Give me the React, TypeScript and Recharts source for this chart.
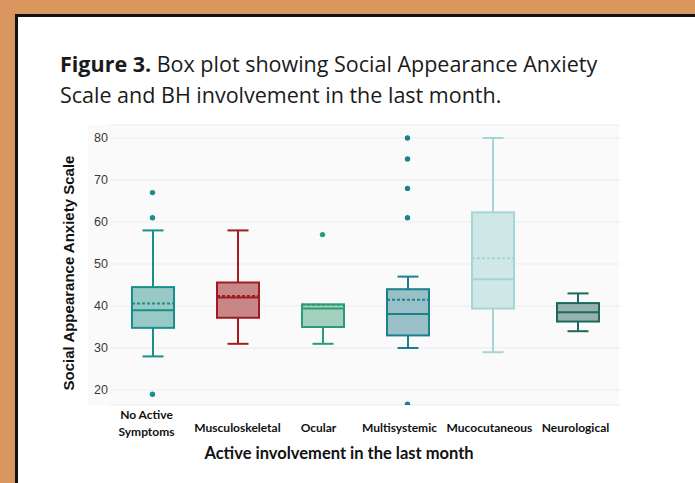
import { ComposedChart, Bar, Line, XAxis, YAxis, CartesianGrid } from 'recharts'

const categories = ['No Active Symptoms', 'Musculoskeletal', 'Ocular', 'Multisystemic', 'Mucocutaneous', 'Neurological']
const minVals = [28, 31, 31, 30, 29, 34]
const q1Vals = [34.8, 37.2, 35, 33, 39.4, 36.3]
const medianVals = [39, 42, 39.4, 38.1, 46.4, 38.5]
const meanVals: (number | null)[] = [40.6, 42.4, 40.3, 41.5, 51.4, null]
const q3Vals = [44.5, 45.6, 40.4, 44, 62.3, 40.7]
const maxVals = [58, 58, 40.4, 47, 80, 43]
const outliers: number[][] = [[67, 61, 19], [], [57], [80, 75, 68, 61, 16.6], [], []]
const yTicks = [20, 30, 40, 50, 60, 70, 80]

const STROKES = ['#17908d', '#a01c22', '#2a9c78', '#1d7f8e', '#a6d5d5', '#1e6660']
const FILLS = ['#93c6c3', '#c5807f', '#9fcfb9', '#93bdc4', '#cde6e7', '#8faeaa']
// small horizontal nudges of the category labels, as in the source figure
const LABEL_NUDGE = [-6, 0, -4, -8, -3, -2]

const OUTLIER_KEYS = ['o1', 'o2', 'o3', 'o4', 'o5']

const chartData = categories.map((name, i) => {
  const row: Record<string, any> = {
    name,
    min: minVals[i],
    q1: q1Vals[i],
    median: medianVals[i],
    mean: meanVals[i],
    q3: q3Vals[i],
    max: maxVals[i],
    idx: i,
  }
  OUTLIER_KEYS.forEach((k, j) => {
    row[k] = outliers[i][j] ?? null
  })
  return row
})

function BoxShape(props: any) {
  const { x, y, width, height, payload } = props
  const top = Math.min(y, y + height)
  const bottom = Math.max(y, y + height)
  const { min, max, q1, q3, median, mean, idx } = payload
  const span = max - min || 1
  const py = (v: number) => bottom - ((v - min) / span) * (bottom - top)
  const stroke = STROKES[idx]
  const fill = FILLS[idx]
  const cx = x + width / 2
  const cap = 10.5
  return (
    <g>
      {max > q3 && <line x1={cx} x2={cx} y1={py(max)} y2={py(q3)} stroke={stroke} strokeWidth={2} />}
      {max > q3 && <line x1={cx - cap} x2={cx + cap} y1={py(max)} y2={py(max)} stroke={stroke} strokeWidth={2} />}
      <line x1={cx} x2={cx} y1={py(q1)} y2={py(min)} stroke={stroke} strokeWidth={2} />
      <line x1={cx - cap} x2={cx + cap} y1={py(min)} y2={py(min)} stroke={stroke} strokeWidth={2} />
      <rect x={x} y={py(q3)} width={width} height={py(q1) - py(q3)} fill={fill} fillOpacity={0.95} stroke={stroke} strokeWidth={2} />
      <line x1={x} x2={x + width} y1={py(median)} y2={py(median)} stroke={stroke} strokeWidth={2} />
      {mean != null && (
        <line x1={x} x2={x + width} y1={py(mean)} y2={py(mean)} stroke={stroke} strokeWidth={2} strokeDasharray="3 2" />
      )}
    </g>
  )
}

function OutlierDot(props: any) {
  const { cx, cy, payload } = props
  if (cy == null || isNaN(cy)) return <g />
  return <circle cx={cx} cy={cy} r={2.7} fill={STROKES[payload.idx]} />
}

function CategoryTick(props: any) {
  const { x, y, payload, index } = props
  const words = payload.value === 'No Active Symptoms' ? ['No Active', 'Symptoms'] : [payload.value]
  const startY = words.length > 1 ? y + 6 : y + 19
  const tx = x + (LABEL_NUDGE[index] ?? 0)
  return (
    <text x={tx} y={startY} textAnchor="middle" fontFamily="Lato" fontWeight={700} fontSize={12} fill="#111">
      {words.map((w, i) => (
        <tspan key={w} x={tx} dy={i === 0 ? 0 : 17}>
          {w}
        </tspan>
      ))}
    </text>
  )
}

export default function App() {
  return (
    <div style={{ position: 'absolute', left: 0, top: 0, width: 695, height: 483, overflow: 'hidden', background: '#d9975f' }}>
      <div
        style={{
          position: 'absolute',
          left: 15,
          top: 14,
          width: 720,
          height: 520,
          background: '#fff',
          border: '3px solid #111',
        }}
      />
      <div
        style={{
          position: 'absolute',
          left: 60,
          top: 48,
          width: 580,
          fontFamily: 'Open Sans',
          fontSize: 21.5,
          lineHeight: '31px',
          color: '#1a1a1a',
        }}
      >
        <b>Figure 3.</b> Box plot showing Social Appearance Anxiety Scale and BH involvement in the last month.
      </div>
      <div style={{ position: 'absolute', left: 88, top: 125, width: 531, height: 280, background: '#fafafa' }} />
      <div
        style={{
          position: 'absolute',
          left: 69 - 130,
          top: 273 - 10,
          width: 260,
          height: 20,
          lineHeight: '20px',
          textAlign: 'center',
          transform: 'rotate(-90deg)',
          fontFamily: 'Liberation Sans',
          fontWeight: 700,
          fontSize: 15,
          color: '#111',
        }}
      >
        Social Appearance Anxiety Scale
      </div>
      <div
        style={{
          position: 'absolute',
          left: 339 - 200,
          top: 442,
          width: 400,
          lineHeight: '22px',
          textAlign: 'center',
          fontFamily: 'Lato',
          fontWeight: 700,
          fontSize: 16.5,
          color: '#111',
        }}
      >
        Active involvement in the last month
      </div>
      <div style={{ position: 'absolute', left: 0, top: 0 }}>
        <ComposedChart width={695} height={483} data={chartData} margin={{ top: 125, right: 75, left: 50, bottom: 38 }}>
          <CartesianGrid vertical={false} stroke="#ececec" strokeWidth={1} />
          <XAxis dataKey="name" height={40} axisLine={false} tickLine={false} interval={0} tick={<CategoryTick />} />
          <YAxis
            width={60}
            domain={[16.43, 83.1]}
            ticks={yTicks}
            allowDataOverflow
            axisLine={false}
            tickLine={false}
            tickSize={2}
            tickMargin={0}
            tick={{ fontFamily: 'Liberation Sans', fontSize: 12.5, fill: '#3a3a3a' }}
          />
          <Bar dataKey={(d: any) => [d.min, d.max]} barSize={42} shape={<BoxShape />} isAnimationActive={false} />
          {OUTLIER_KEYS.map((k) => (
            <Line
              key={k}
              dataKey={k}
              stroke="none"
              dot={<OutlierDot />}
              activeDot={false}
              connectNulls={false}
              isAnimationActive={false}
            />
          ))}
        </ComposedChart>
      </div>
    </div>
  )
}
